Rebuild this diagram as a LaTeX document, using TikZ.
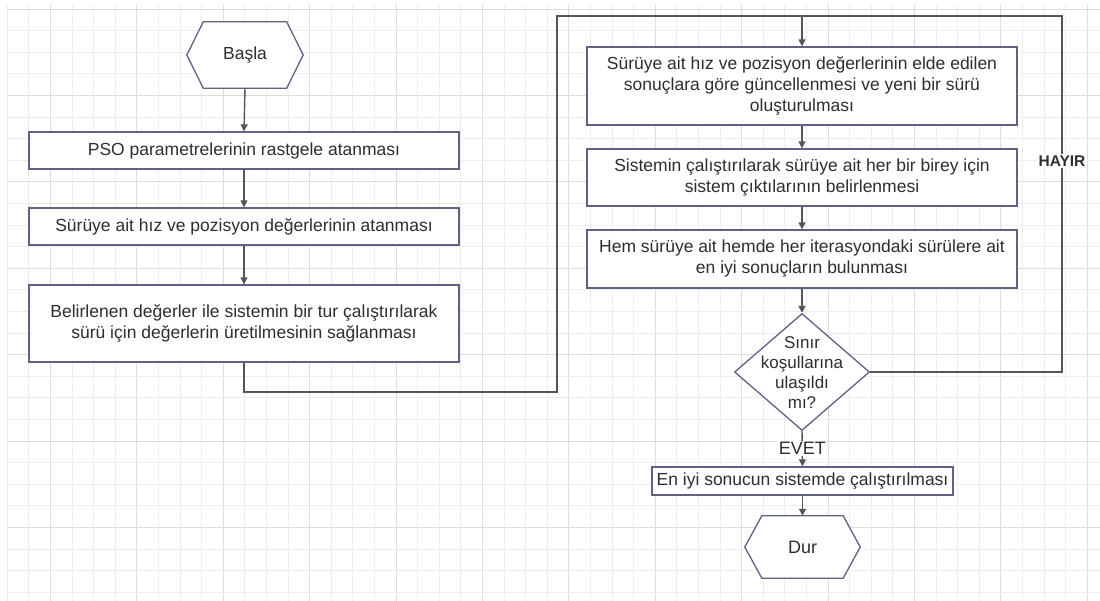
\documentclass[tikz,border=0pt]{standalone}
\usepackage{fontspec}
\setmainfont{Liberation Sans}
\usetikzlibrary{arrows.meta,shapes.geometric}
\definecolor{bordc}{HTML}{5E6385}
\definecolor{linec}{HTML}{555555}
\definecolor{gridminor}{HTML}{EDEDED}
\definecolor{gridmajor}{HTML}{DCDCDC}
\definecolor{txtc}{HTML}{2E2E2E}
\begin{document}
\begin{tikzpicture}[x=1pt,y=-1pt,
  txt/.style={text=txtc, font=\fontsize{17.5}{21}\selectfont, align=center},
  box/.style={txt, draw=bordc, line width=1.3pt, fill=white, inner sep=0pt},
  hexbox/.style={txt, inner sep=0pt},
  dia/.style={diamond, draw=bordc, line width=1.3pt, fill=white, inner sep=0pt, minimum width=135pt, minimum height=117pt},
  conn/.style={draw=linec, line width=1.4pt},
  arr/.style={conn, -{Triangle[length=7pt,width=7pt]}},
  lbl/.style={fill=white, text=txtc, inner sep=1.5pt}
]
\useasboundingbox (0,0) rectangle (1100,601);
\fill[white] (0,0) rectangle (1100,601);
% grid
\foreach \k in {0,...,50} {
  \pgfmathtruncatemacro{\m}{mod(\k,4)}
  \ifnum\m=2
    \draw[gridmajor, line width=0.9pt] (7.3+21.6*\k,5) -- (7.3+21.6*\k,601);
  \else
    \draw[gridminor, line width=0.9pt] (7.3+21.6*\k,5) -- (7.3+21.6*\k,601);
  \fi
}
\foreach \k in {0,...,27} {
  \pgfmathtruncatemacro{\m}{mod(\k,4)}
  \ifnum\m=0
    \draw[gridmajor, line width=0.9pt] (7,9+21.6*\k) -- (1100,9+21.6*\k);
  \else
    \draw[gridminor, line width=0.9pt] (7,9+21.6*\k) -- (1100,9+21.6*\k);
  \fi
}

% left column
\node[hexbox, minimum width=116pt, minimum height=66pt] (start) at (245,55) {};
\draw[draw=bordc, line width=1.3pt, fill=white]
  ([xshift=16.5pt]start.north west) -- ([xshift=-16.5pt]start.north east) -- (start.east)
  -- ([xshift=-16.5pt]start.south east) -- ([xshift=16.5pt]start.south west) -- (start.west) -- cycle;
\node[txt] at (start) {Başla};

\node[box, minimum width=430pt, minimum height=37pt] (b1) at (244,150.5) {PSO parametrelerinin rastgele atanması};
\node[box, minimum width=430pt, minimum height=37pt] (b2) at (244,226.5) {Sürüye ait hız ve pozisyon değerlerinin atanması};
\node[box, minimum width=430pt, minimum height=77pt] (b3) at (244,323.5) {Belirlenen değerler ile sistemin bir tur çalıştırılarak\\sürü için değerlerin üretilmesinin sağlanması};

% right column
\node[box, minimum width=430pt, minimum height=78pt] (b4) at (802,86) {Sürüye ait hız ve pozisyon değerlerinin elde edilen\\sonuçlara göre güncellenmesi ve yeni bir sürü\\oluşturulması};
\node[box, minimum width=430pt, minimum height=57pt] (b5) at (802,177.5) {Sistemin çalıştırılarak sürüye ait her bir birey için\\sistem çıktılarının belirlenmesi};
\node[box, minimum width=430pt, minimum height=58pt] (b6) at (802,259) {Hem sürüye ait hemde her iterasyondaki sürülere ait\\en iyi sonuçların bulunması};
\node[dia] (cond) at (802,372) {};
\node[txt, font=\fontsize{17}{20}\selectfont] at (802,373) {Sınır\\koşullarına\\ulaşıldı\\mı?};
\node[box, minimum width=301pt, minimum height=28pt] (b7) at (802.5,481) {En iyi sonucun sistemde çalıştırılması};
\node[hexbox, minimum width=115pt, minimum height=62pt] (stop) at (802.5,547) {};
\draw[draw=bordc, line width=1.3pt, fill=white]
  ([xshift=17pt]stop.north west) -- ([xshift=-17pt]stop.north east) -- (stop.east)
  -- ([xshift=-17pt]stop.south east) -- ([xshift=17pt]stop.south west) -- (stop.west) -- cycle;
\node[txt, font=\fontsize{18}{21}\selectfont] at (stop) {Dur};

% coordinates for loop lines
\coordinate (j) at (802,16);
\coordinate (lbot) at (557,392);
\coordinate (rtop) at (1062,16);

% connectors
\draw[arr] (start.south) -- (b1.north);
\draw[arr] (b1.south) -- (b2.north);
\draw[arr] (b2.south) -- (b3.north);
\draw[conn] (b3.south) |- (lbot) |- (j);
\draw[conn] (cond.east) -| (rtop) -- (j);
\draw[arr] (j) -- (b4.north);
\draw[arr] (b4.south) -- (b5.north);
\draw[arr] (b5.south) -- (b6.north);
\draw[arr] (b6.south) -- (cond.north);
\draw[arr] (cond.south) -- (b7.north) node[lbl, midway, font=\fontsize{18}{20}\selectfont] {EVET};
\draw[arr] (b7.south) -- (stop.north);
\node[lbl, font=\bfseries\fontsize{15.5}{18}\selectfont] (hayir) at (1062,161) {HAYIR};
\end{tikzpicture}
\end{document}
